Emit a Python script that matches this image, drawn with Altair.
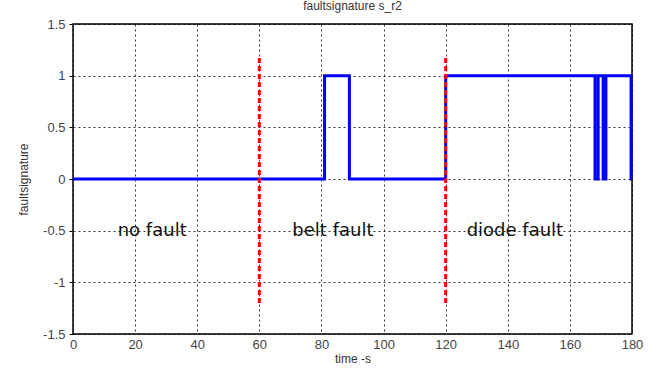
import altair as alt
import pandas as pd

# step signal (time, value) - step-after
sig_t = [0, 81, 89, 120, 168.1, 169.1, 170.7, 171.6, 179.7, 180]
sig_v = [0, 1, 0, 1, 0, 1, 0, 1, 0, 0]

# fault boundaries
bound_t = [60, 120]
bound_lo = [-1.2, -1.2]
bound_hi = [1.2, 1.2]

# region labels
lab_text = ["no fault", "belt fault", "diode fault"]
lab_t = [25.5, 83.7, 142.3]
lab_v = [-0.5, -0.5, -0.5]

xticks = list(range(0, 181, 20))
yticks = [-1.5, -1, -0.5, 0, 0.5, 1, 1.5]

sig = pd.DataFrame({"t": sig_t, "v": sig_v})
bnd = pd.DataFrame({"t": bound_t, "lo": bound_lo, "hi": bound_hi})
lab = pd.DataFrame({"t": lab_t, "v": lab_v, "text": lab_text})

xs = alt.Scale(domain=[0, 180], nice=False, zero=False)
ys = alt.Scale(domain=[-1.5, 1.5], nice=False, zero=False)

font = "Liberation Sans"

xax = alt.Axis(values=xticks, title="time -s", grid=True, gridColor="#000000",
               gridDash=[2, 3], gridOpacity=0.8, gridWidth=1, tickSize=0,
               labelFontSize=13, labelColor="#444444", labelFont=font,
               titleFont=font, titleFontSize=12, titleFontWeight="normal",
               titleColor="#333333", titlePadding=2, labelPadding=4,
               domain=False, labelFlush=False)
yax = alt.Axis(values=yticks, title="faultsignature", grid=True, gridColor="#000000",
               gridDash=[2, 3], gridOpacity=0.8, gridWidth=1, tickSize=4,
               tickColor="#000000", labelFontSize=13, labelColor="#444444",
               labelFont=font, titleFont=font, titleFontSize=12,
               titleFontWeight="normal", titleColor="#333333", titlePadding=12,
               labelPadding=4, domain=False,
               labelExpr="toString(datum.value)")

line = alt.Chart(sig).mark_line(interpolate="step-after", color="#0000FF",
                                strokeWidth=3).encode(
    x=alt.X("t:Q", scale=xs, axis=xax),
    y=alt.Y("v:Q", scale=ys, axis=yax),
)

rules = alt.Chart(bnd).mark_rule(color="#FF0000", strokeWidth=3,
                                 strokeDash=[5, 3]).encode(
    x=alt.X("t:Q", scale=xs),
    y=alt.Y("lo:Q", scale=ys),
    y2="hi:Q",
)

texts = alt.Chart(lab).mark_text(fontSize=18, font="DejaVu Sans", color="#111111",
                                 align="center", baseline="middle").encode(
    x=alt.X("t:Q", scale=xs),
    y=alt.Y("v:Q", scale=ys),
    text="text:N",
)

chart = alt.layer(line, rules, texts).properties(
    width=559, height=310,
    title=alt.TitleParams("faultsignature s_r2", fontSize=12, font=font,
                          fontWeight="normal", color="#333333", offset=5),
    autosize=alt.AutoSizeParams(type="none"),
    padding={"left": 73, "top": 24, "right": 30, "bottom": 34},
).configure_view(stroke="#000000", strokeWidth=1.5)

chart.save("out.html", embed_options={"renderer": "svg", "actions": False})
